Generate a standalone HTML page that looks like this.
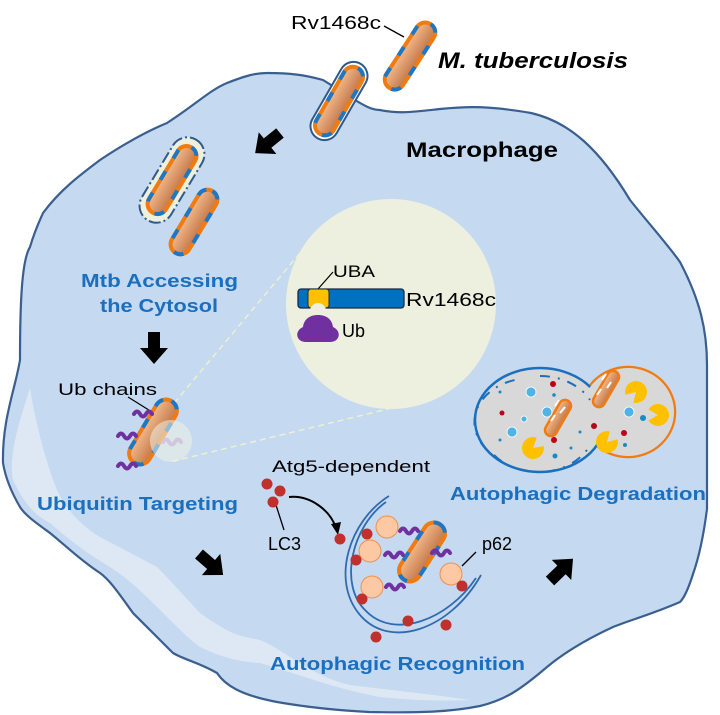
<!DOCTYPE html>
<html><head><meta charset="utf-8"><style>
html,body{margin:0;padding:0;background:#fff}
svg{display:block}
text{font-family:"Liberation Sans",Arial,sans-serif}
</style></head><body>
<svg width="720" height="715" viewBox="0 0 720 715" xmlns="http://www.w3.org/2000/svg">
<defs>
<linearGradient id="bg" x1="0" y1="0" x2="1" y2="0">
<stop offset="0" stop-color="#f2b98a"/><stop offset="1" stop-color="#c4784a"/>
</linearGradient>
</defs>
<path d="M20,360 C20,300 22,260 30,247 C35,230 40,220 43,213 C60,190 80,175 100,160 C130,140 150,130 167,123 C195,105 210,90 227,83 C245,76 255,73 267,73 C290,73 305,75 323,80 L355,100 C365,106 372,110 380,110 C400,114 413,112 440,109 C470,106 490,106 531,113 C570,122 600,150 630,200 C650,225 668,245 680,262 C700,300 707,330 707,365 L707,509 C703,540 698,560 693,574 C688,590 684,598 680,602 C650,615 630,620 613,627 C585,640 565,652 547,667 C520,690 505,700 480,706 C450,712 420,713 369,712 C330,710 300,706 277,702 C240,695 225,685 217,673 C200,663 185,660 173,653 C155,635 145,625 133,613 C120,595 110,580 100,573 C80,560 65,545 50,533 C35,522 25,515 20,507 C10,490 5,475 3,463 C2,420 15,390 20,360 Z" fill="#c5d9f0" stroke="#3a5f8f" stroke-width="2.2"/>
<path d="M30,388 C20,420 8,455 13,480 C25,505 35,515 50,523 C75,545 95,558 110,567 C130,580 145,595 157,607 C175,625 190,640 200,647 C220,657 240,662 260,663 C300,675 340,690 380,697 C420,701 450,701 470,700 C430,694 390,690 350,685 C310,676 285,650 260,640 C245,637 240,636 233,633 C220,627 210,620 200,613 C185,597 170,580 157,567 C135,555 115,545 100,537 C80,525 65,508 57,490 C45,460 35,420 30,388 Z" fill="#dde8f4"/>
<circle cx="391" cy="304" r="105" fill="#edf0de"/>
<line x1="300" y1="253" x2="160" y2="420" stroke="#eef0d0" stroke-width="1.5" stroke-dasharray="6 4"/>
<line x1="392" y1="408" x2="170" y2="462" stroke="#eef0d0" stroke-width="1.5" stroke-dasharray="6 4"/>

<g transform="translate(410,56) rotate(33)">
<rect x="-10" y="-38" width="20" height="76" rx="10" fill="url(#bg)" stroke="#f07b10" stroke-width="4"/>
<rect x="-10" y="-38" width="20" height="76" rx="10" fill="none" stroke="#1f77c4" stroke-width="4" stroke-dasharray="10 15"/>
</g>
<g transform="translate(339,101) rotate(30)">
<rect x="-14" y="-43" width="28" height="86" rx="14" fill="#fff" stroke="#2f5a8a" stroke-width="2"/>
<rect x="-10" y="-38" width="20" height="76" rx="10" fill="url(#bg)" stroke="#f07b10" stroke-width="4"/>
<rect x="-10" y="-38" width="20" height="76" rx="10" fill="none" stroke="#1f77c4" stroke-width="4" stroke-dasharray="10 15"/>
</g>
<g transform="translate(172,180) rotate(31)">
<rect x="-17" y="-47" width="34" height="94" rx="17" fill="#eef0dc" stroke="#2f5a8a" stroke-width="2" stroke-dasharray="12 3 2 3"/>
<rect x="-10" y="-38" width="20" height="76" rx="10" fill="url(#bg)" stroke="#f07b10" stroke-width="4"/>
<rect x="-10" y="-38" width="20" height="76" rx="10" fill="none" stroke="#1f77c4" stroke-width="4" stroke-dasharray="10 15"/>
</g>
<g transform="translate(194,222) rotate(31)">
<rect x="-10" y="-36" width="20" height="72" rx="10" fill="url(#bg)" stroke="#f07b10" stroke-width="4"/>
<rect x="-10" y="-36" width="20" height="72" rx="10" fill="none" stroke="#1f77c4" stroke-width="4" stroke-dasharray="10 15"/>
</g>

<g fill="#000">
<polygon points="0,-6 16,-6 16,-14 32,0 16,14 16,6 0,6" transform="translate(280,133) rotate(141)"/>
<polygon points="0,-6 16,-6 16,-14 32,0 16,14 16,6 0,6" transform="translate(154,332) rotate(90)"/>
<polygon points="0,-6 16,-6 16,-14 32,0 16,14 16,6 0,6" transform="translate(199,554) rotate(41)"/>
<polygon points="0,-6 16,-6 16,-14 32,0 16,14 16,6 0,6" transform="translate(550,581) rotate(-44)"/>
</g>

<text x="291" y="29" font-size="18" textLength="90" lengthAdjust="spacingAndGlyphs">Rv1468c</text>
<line x1="384" y1="26" x2="404" y2="37" stroke="#000" stroke-width="1.3"/>
<text x="438" y="68" font-size="22" font-weight="bold" font-style="italic" textLength="190" lengthAdjust="spacingAndGlyphs">M. tuberculosis</text>
<text x="406" y="157" font-size="21" font-weight="bold" textLength="152" lengthAdjust="spacingAndGlyphs">Macrophage</text>
<g fill="#1a6fbf" font-weight="bold" font-size="18">
<text x="81" y="287" textLength="157" lengthAdjust="spacingAndGlyphs">Mtb Accessing</text>
<text x="100" y="312" textLength="118" lengthAdjust="spacingAndGlyphs">the Cytosol</text>
<text x="37" y="510" textLength="201" lengthAdjust="spacingAndGlyphs">Ubiquitin Targeting</text>
<text x="450" y="500" textLength="256" lengthAdjust="spacingAndGlyphs">Autophagic Degradation</text>
<text x="270" y="670" textLength="255" lengthAdjust="spacingAndGlyphs">Autophagic Recognition</text>
</g>

<text x="333" y="277" font-size="17" textLength="42" lengthAdjust="spacingAndGlyphs">UBA</text>
<line x1="333" y1="272" x2="318" y2="289" stroke="#000" stroke-width="1.2"/>
<rect x="298" y="289" width="106" height="19" rx="3" fill="#0070c0" stroke="#1a2a40" stroke-width="1.3"/>
<rect x="308" y="289" width="21" height="19" rx="3" fill="#ffc000" stroke="#1a2a40" stroke-width="1"/>
<circle cx="318" cy="311" r="8" fill="#edf0de"/>
<path d="M306,342 C296,342 294,331 303,327 C304,319 310,315 318,315 C326,315 332,319 333,327 C342,331 340,342 330,342 Z" fill="#7030a0"/>
<text x="406" y="306" font-size="18" textLength="90" lengthAdjust="spacingAndGlyphs">Rv1468c</text>
<text x="342" y="337" font-size="18">Ub</text>

<text x="58" y="395" font-size="17" textLength="99" lengthAdjust="spacingAndGlyphs">Ub chains</text>
<line x1="128" y1="397" x2="152" y2="412" stroke="#000" stroke-width="1.2"/>
<g transform="translate(153,432) rotate(31)">
<rect x="-11" y="-36" width="22" height="72" rx="11" fill="url(#bg)" stroke="#f07b10" stroke-width="4"/>
<rect x="-11" y="-36" width="22" height="72" rx="11" fill="none" stroke="#1f77c4" stroke-width="4" stroke-dasharray="10 15"/>
</g>
<g fill="none" stroke="#7030a0" stroke-width="4" stroke-linecap="round">
<path d="M134,414 q3,-5 6,0 t6,0 t6,0"/>
<path d="M118,436 q3,-5 6,0 t6,0 t6,0"/>
<path d="M118,466 q3,-5 6,0 t6,0 t6,0"/>
<path d="M163,442 q3,-5 6,0 t6,0 t6,0" stroke="#b090d0"/>
</g>
<circle cx="171" cy="441" r="21" fill="#eef2e6" opacity="0.55"/>

<text x="272" y="472" font-size="17" textLength="158" lengthAdjust="spacingAndGlyphs">Atg5-dependent</text>
<text x="268" y="550" font-size="18">LC3</text>
<text x="482" y="550" font-size="18">p62</text>
<line x1="276" y1="505" x2="284" y2="530" stroke="#000" stroke-width="1.3"/>
<line x1="462" y1="566" x2="476" y2="552" stroke="#000" stroke-width="1.3"/>
<g fill="#c0302c">
<circle cx="267" cy="484" r="5.5"/><circle cx="280" cy="491" r="5.5"/><circle cx="273" cy="502" r="5.5"/>
</g>
<path d="M289,497 C310,495 330,510 336,528" fill="none" stroke="#000" stroke-width="2"/>
<polygon points="331,524 341,522 338,535" fill="#000"/>
<g fill="none" stroke="#2f6bb0" stroke-width="1.8">
<path d="M389,496 C350,520 330,580 360,615 C390,650 450,630 481,575"/>
<path d="M386,502 C352,526 338,585 366,611 C394,640 448,620 476,578"/>
</g>
<g transform="translate(422,552) rotate(33)">
<rect x="-11" y="-33" width="22" height="66" rx="11" fill="url(#bg)" stroke="#f07b10" stroke-width="4"/>
<rect x="-11" y="-33" width="22" height="66" rx="11" fill="none" stroke="#1f77c4" stroke-width="4" stroke-dasharray="10 15"/>
</g>
<g fill="none" stroke="#7030a0" stroke-width="4" stroke-linecap="round">
<path d="M400,531 q3,-5 6,0 t6,0 t6,0"/>
<path d="M385,555 q3,-5 6,0 t6,0 t6,0"/>
<path d="M386,587 q3,-5 6,0 t6,0 t6,0"/>
<path d="M432,553 q3,-5 6,0 t6,0 t6,0"/>
</g>
<g fill="#fdc9a4" stroke="#f09050" stroke-width="1">
<circle cx="387" cy="527" r="11"/><circle cx="370" cy="551" r="11"/><circle cx="372" cy="587" r="11"/><circle cx="451" cy="574" r="11"/>
</g>
<g fill="#c0302c">
<circle cx="340" cy="539" r="5.5"/><circle cx="367" cy="534" r="5.5"/><circle cx="356" cy="560" r="5.5"/><circle cx="362" cy="599" r="5.5"/>
<circle cx="462" cy="586" r="5.5"/><circle cx="408" cy="621" r="5.5"/><circle cx="446" cy="625" r="5.5"/><circle cx="376" cy="637" r="5.5"/>
</g>

<ellipse cx="628" cy="412" rx="47" ry="45" fill="#d8d8d8" stroke="#f07b10" stroke-width="2.5"/>
<ellipse cx="540" cy="420" rx="65" ry="52" fill="#d8d8d8" stroke="#1a6fbf" stroke-width="2.5"/>
<ellipse cx="628" cy="412" rx="46" ry="44" fill="#d8d8d8"/>
<path d="M487,450 A56,44 0 0 1 520,379 M540,376 A56,44 0 0 1 590,400" fill="none" stroke="#1a6fbf" stroke-width="2" stroke-dasharray="10 8 2 8"/>
<path d="M494,455 A56,44 0 0 0 590,445" fill="none" stroke="#1a6fbf" stroke-width="2" stroke-dasharray="10 8 2 8"/>
<g transform="translate(558,418) rotate(30)">
<rect x="-6" y="-20" width="12" height="40" rx="6" fill="url(#bg)" stroke="#f07b10" stroke-width="2.5"/>
</g>
<g transform="translate(606,389) rotate(30)">
<rect x="-6" y="-20" width="12" height="40" rx="6" fill="url(#bg)" stroke="#f07b10" stroke-width="2.5"/>
</g>
<g stroke="#fff" stroke-width="2"><path d="M555,406 l4,-6 M560,413 l5,-6 M551,421 l4,-6 M602,380 l4,-6 M607,388 l4,-6 M597,395 l4,-6"/></g>
<g fill="#4fb3e6" stroke="#fff" stroke-width="0.8">
<circle cx="531" cy="392" r="5"/><circle cx="547" cy="412" r="5"/><circle cx="512" cy="432" r="5"/><circle cx="524" cy="419" r="3"/><circle cx="629" cy="412" r="5"/>
</g>
<g fill="#c00018"><circle cx="553" cy="384" r="3"/><circle cx="502" cy="413" r="2.5"/><circle cx="554" cy="440" r="3"/><circle cx="594" cy="426" r="3"/><circle cx="624" cy="433" r="3"/></g>
<g fill="#1a8ac0"><circle cx="643" cy="418" r="3"/><circle cx="554" cy="395" r="1.8"/><circle cx="555" cy="456" r="2.5"/><circle cx="625" cy="445" r="2"/><circle cx="500" cy="392" r="1.5"/><circle cx="500" cy="440" r="1.5"/><circle cx="580" cy="432" r="1.5"/><circle cx="571" cy="448" r="1.5"/></g>
<g fill="#ffc000">
<path d="M636,392 L625.4,394.8 A11,11 0 1 1 633.2,402.6 Z"/>
<path d="M658,415 L648.5,409.5 A11,11 0 1 1 648.5,420.5 Z"/>
<path d="M607,442 L617.6,439.2 A11,11 0 1 1 609.8,431.4 Z"/>
<path d="M533,448 L543.8,446.1 A11,11 0 1 1 536.8,437.7 Z"/>
</g>
</svg>
</body></html>
